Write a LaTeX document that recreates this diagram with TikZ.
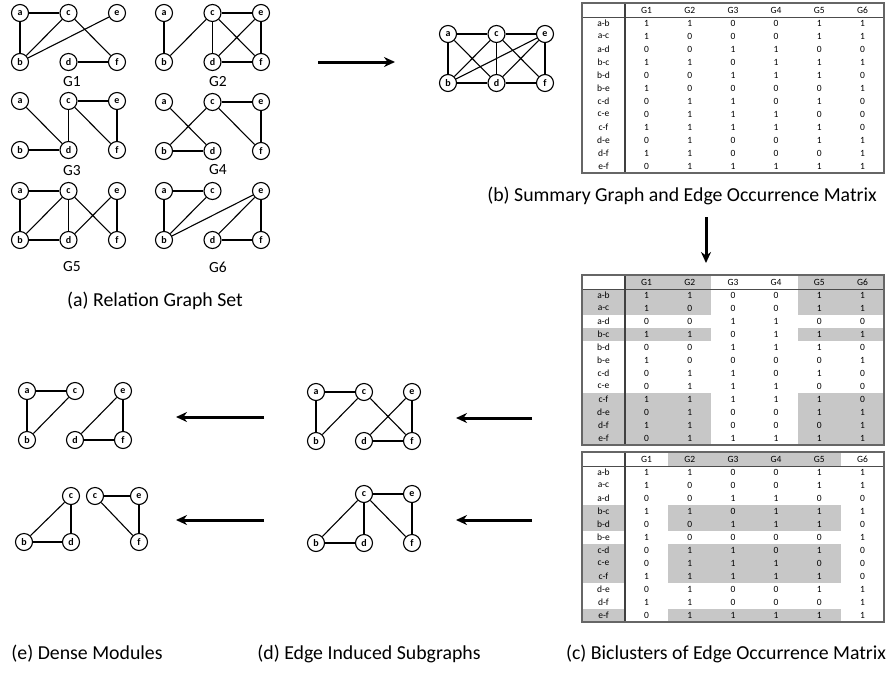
\documentclass[tikz,border=0pt]{standalone}
\usepackage{fontspec}
\setmainfont{Carlito}
\usetikzlibrary{arrows.meta}
\tikzset{
  vtx/.style={circle,draw,line width=1.1pt,minimum size=17pt,inner sep=0pt,fill=white,font=\fontsize{10}{10}\selectfont\bfseries},
  edge/.style={line width=1.1pt},
  glab/.style={font=\fontsize{15.5}{16}\selectfont,inner sep=0pt},
  captext/.style={font=\fontsize{19.8}{20}\selectfont,inner sep=0pt},
  cell/.style={font=\fontsize{9.5}{10}\selectfont,inner sep=0pt},
  shadecell/.style={fill=black!22},
  flow/.style={line width=3pt,-{Stealth[length=11pt,width=10pt]}},
}
\newcommand\sixg[4]{%
  \foreach \vn/\dx/\dy in {a/0/0,c/48.5/0,e/97/0,b/0/49,d/48.5/49,f/97/49}
    \node[vtx] (#1\vn) at ({#2+\dx},{#3+\dy}) {\vn};
  \foreach \u/\v in {#4} \draw[edge] (#1\u) -- (#1\v);
}
\def\eomrows{a-b/{1,1,0,0,1,1},a-c/{1,0,0,0,1,1},a-d/{0,0,1,1,0,0},b-c/{1,1,0,1,1,1},b-d/{0,0,1,1,1,0},b-e/{1,0,0,0,0,1},c-d/{0,1,1,0,1,0},c-e/{0,1,1,1,0,0},c-f/{1,1,1,1,1,0},d-e/{0,1,0,0,1,1},d-f/{1,1,0,0,0,1},e-f/{0,1,1,1,1,1}}
\newcommand\eomshade[3]{%
  \foreach \c in {#2} \fill[shadecell] ({625+(\c-1)*43.17},#1) rectangle ({625+\c*43.17},{#1+14});
  \foreach \r in {#3} {
    \fill[shadecell] (582,{#1+14+(\r-1)*13}) rectangle (625,{#1+14+\r*13});
    \foreach \c in {#2} \fill[shadecell] ({625+(\c-1)*43.17},{#1+14+(\r-1)*13}) rectangle ({625+\c*43.17},{#1+14+\r*13});
  }
}
\newcommand\eom[2]{%
  \foreach \g in {1,...,6}
    \node[cell] (#1h\g) at ({625+(\g-0.5)*43.17},{#2+7.5}) {G\g};
  \foreach \lab/\vals [count=\r] in \eomrows {
    \node[cell] (#1l\r) at (603.5,{#2+14+(\r-0.5)*13}) {\lab};
    \foreach \vv [count=\c] in \vals
      \node[cell] (#1v\r-\c) at ({625+(\c-0.5)*43.17},{#2+14+(\r-0.5)*13}) {\vv};
  }
  \draw[line width=0.6pt,black!70] (582,{#2+14}) -- (884,{#2+14});
  \draw[line width=1.4pt,black!75] (625,#2) -- (625,{#2+170});
  \draw[line width=1.3pt,black!60] (582,#2) rectangle (884,{#2+170});
}
\begin{document}
\begin{tikzpicture}[x=1pt,y=-1pt]
\useasboundingbox (0,0) rectangle (887,673);
% (a) relation graph set
\sixg{ga}{20}{13}{a/c,a/b,b/c,b/e,c/f,d/f}
\sixg{gb}{164}{13}{a/b,b/c,c/d,c/e,c/f,d/e,d/f,e/f}
\sixg{gc}{20}{101}{a/d,b/d,c/d,c/e,c/f,e/f}
\sixg{gd}{164}{102}{a/d,b/c,b/d,c/e,c/f,e/f}
\sixg{ge}{20}{191}{a/b,a/c,b/c,b/d,c/d,c/f,d/e,e/f}
\sixg{gf}{164}{191}{a/b,a/c,b/c,b/e,d/e,d/f,e/f}
\node[glab] (l1) at (72,82) {G1};
\node[glab] (l2) at (218,82) {G2};
\node[glab] (l3) at (72,171) {G3};
\node[glab] (l4) at (218,170) {G4};
\node[glab] (l5) at (72,267) {G5};
\node[glab] (l6) at (218,267) {G6};
\node[captext] (capa) at (155,301) {(a) Relation Graph Set};
% summary graph
\sixg{s}{448}{34}{a/c,c/e,a/b,a/d,b/c,b/e,c/d,c/f,d/e,e/f,b/d,d/f}
% matrices
\eom{ma}{3}
\eomshade{275}{1,2,5,6}{1,2,4,9,10,11,12}
\eom{mb}{275}
\eomshade{452}{2,3,4,5}{4,5,7,8,9,12}
\eom{mc}{452}
\node[captext] (capb) at (682,196) {(b) Summary Graph and Edge Occurrence Matrix};
\node[captext] (capc) at (726,654) {(c) Biclusters of Edge Occurrence Matrix};
\node[captext] (capd) at (369,654) {(d) Edge Induced Subgraphs};
\node[captext] (cape) at (87,654) {(e) Dense Modules};
% (d) edge induced subgraphs
\foreach \vn/\px/\py in {a/316/392,c/364/392,e/412/392,b/316/441,d/364/441,f/412/441}
  \node[vtx] (p\vn) at (\px,\py) {\vn};
\foreach \u/\v in {a/c,a/b,b/c,c/f,d/e,e/f,d/f} \draw[edge] (p\u) -- (p\v);
\foreach \vn/\px/\py in {c/364/494,e/412/494,b/316/543,d/364/543,f/412/543}
  \node[vtx] (q\vn) at (\px,\py) {\vn};
\foreach \u/\v in {c/e,b/c,c/d,c/f,e/f,b/d} \draw[edge] (q\u) -- (q\v);
% (e) dense modules
\foreach \vn/\px/\py in {a/27/391,c/75/391,b/27/440,e/123/391,d/75/440,f/123/440}
  \node[vtx] (m\vn) at (\px,\py) {\vn};
\foreach \u/\v in {a/c,a/b,b/c,e/d,e/f,d/f} \draw[edge] (m\u) -- (m\v);
\node[vtx] (nc) at (71,496) {c};
\node[vtx] (nd) at (71,542) {d};
\node[vtx] (nb) at (24,542) {b};
\node[vtx] (nk) at (95,496) {c};
\node[vtx] (ne) at (139,496) {e};
\node[vtx] (nf) at (139,542) {f};
\foreach \u/\v in {b/c,c/d,b/d,k/e,k/f,e/f} \draw[edge] (n\u) -- (n\v);
% arrows
\coordinate (r1) at (318,62); \coordinate (r2) at (395,62);
\coordinate (d1) at (706,217); \coordinate (d2) at (706,263);
\coordinate (k1) at (532,418); \coordinate (k2) at (456,418);
\coordinate (k3) at (532,520); \coordinate (k4) at (456,520);
\coordinate (j1) at (264,417); \coordinate (j2) at (176,417);
\coordinate (j3) at (264,520); \coordinate (j4) at (176,520);
\draw[flow] (r1) -- (r2);
\draw[flow] (d1) -- (d2);
\draw[flow] (k1) -- (k2);
\draw[flow] (k3) -- (k4);
\draw[flow] (j1) -- (j2);
\draw[flow] (j3) -- (j4);
\end{tikzpicture}
\end{document}
